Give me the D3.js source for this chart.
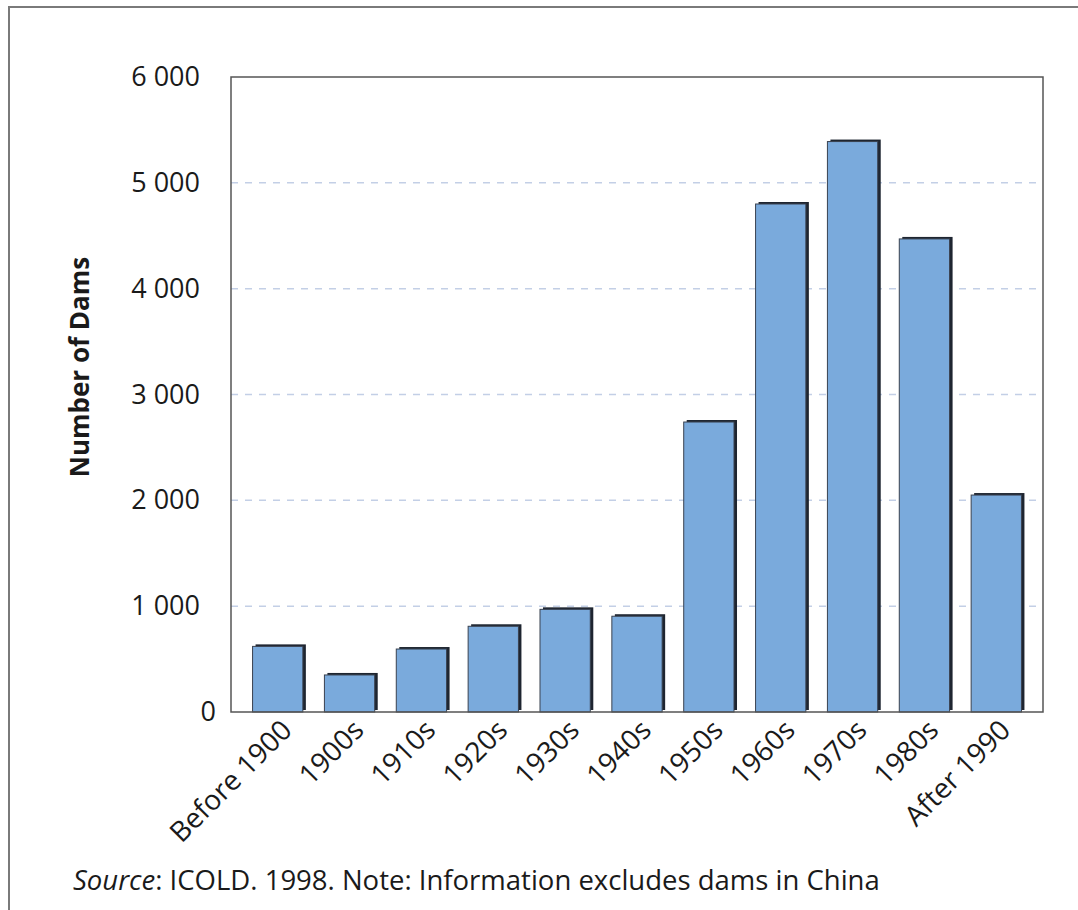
<!DOCTYPE html>
<html lang="en">
<head>
  <meta charset="UTF-8">
  <title>Number of Dams by Period</title>
  <script src="https://d3js.org/d3.v7.min.js"></script>
  <style>
    html, body { margin: 0; background: #fff; overflow: hidden; }
    svg { display: block; }
    text { font-family: "Open Sans", sans-serif; fill: #1a1a1a; }
  </style>
</head>
<body>
  <div id="chart"></div>

  <script>
    // Data
    const periods = ["Before 1900", "1900s", "1910s", "1920s", "1930s", "1940s",
                     "1950s", "1960s", "1970s", "1980s", "After 1990"];
    const dams = [620, 350, 595, 810, 970, 905, 2740, 4800, 5390, 4470, 2050];
    const yTicks = [0, 1000, 2000, 3000, 4000, 5000, 6000];

    const W = 1078, H = 910;
    const plot = { left: 231, top: 77, right: 1043, bottom: 712 };

    const svg = d3.select("#chart")
      .append("svg")
      .attr("width", W)
      .attr("height", H);

    // outer frame: only the top and left edges fall inside the picture
    svg.append("path")
      .attr("d", "M9," + H + "V7H" + W)
      .attr("fill", "none")
      .attr("stroke", "#7a7a7a")
      .attr("stroke-width", 2);

    const x = d3.scaleBand()
      .domain(periods)
      .range([plot.left, plot.right])
      .paddingInner(0.3)
      .paddingOuter(0.3);

    const y = d3.scaleLinear()
      .domain([0, 6000])
      .range([plot.bottom, plot.top]);

    // dashed gridlines
    svg.append("g")
      .selectAll("line")
      .data(yTicks.filter(d => d > 0 && d < 6000))
      .enter().append("line")
        .attr("x1", plot.left).attr("x2", plot.right)
        .attr("y1", d => y(d)).attr("y2", d => y(d))
        .attr("stroke", "#c3cfe6")
        .attr("stroke-width", 1.5)
        .attr("stroke-dasharray", "7,7");

    // bars with a dark drop shadow up and to the right
    const bars = svg.append("g");
    bars.selectAll(".shadow")
      .data(dams)
      .enter().append("rect")
        .attr("class", "shadow")
        .attr("x", (d, i) => x(periods[i]) + 3)
        .attr("y", d => y(d) - 2)
        .attr("width", x.bandwidth())
        .attr("height", d => y(0) - y(d))
        .attr("fill", "#1e2530");
    bars.selectAll(".bar")
      .data(dams)
      .enter().append("rect")
        .attr("class", "bar")
        .attr("x", (d, i) => x(periods[i]))
        .attr("y", d => y(d))
        .attr("width", x.bandwidth())
        .attr("height", d => y(0) - y(d))
        .attr("fill", "#7aaadc")
        .attr("stroke", "#3a4250")
        .attr("stroke-width", 1);

    // plot frame
    svg.append("rect")
      .attr("x", plot.left).attr("y", plot.top)
      .attr("width", plot.right - plot.left)
      .attr("height", plot.bottom - plot.top)
      .attr("fill", "none")
      .attr("stroke", "#555")
      .attr("stroke-width", 1.5);

    // y axis labels
    const fmt = d => d3.format(",")(d).replace(",", " ");
    const yAxis = svg.append("g")
      .attr("transform", "translate(" + plot.left + ",0)")
      .call(d3.axisLeft(y).tickValues(yTicks).tickSize(0).tickPadding(31).tickFormat(fmt));
    yAxis.select(".domain").remove();
    yAxis.selectAll("text")
      .attr("dx", d => d === 0 ? 16 : 0)
      .style("font-size", "27px")
      .style("font-family", "'Open Sans', sans-serif")
      .attr("fill", "#1a1a1a");

    // x axis labels, rotated
    const xAxis = svg.append("g")
      .attr("transform", "translate(0," + plot.bottom + ")")
      .call(d3.axisBottom(x).tickSize(0).tickPadding(0));
    xAxis.select(".domain").remove();
    xAxis.selectAll("text")
      .attr("transform", "translate(1,5) rotate(-45)")
      .attr("dy", "0.75em")
      .style("text-anchor", "end")
      .style("font-size", "28px")
      .style("font-family", "'Open Sans', sans-serif")
      .attr("fill", "#1a1a1a");

    // y axis title
    svg.append("text")
      .attr("transform", "translate(89,367) rotate(-90)")
      .style("text-anchor", "middle")
      .style("font-size", "26px")
      .style("font-weight", "bold")
      .text("Number of Dams");

    // source note
    const note = svg.append("text")
      .attr("x", 73)
      .attr("y", 890)
      .style("font-size", "27.5px");
    note.append("tspan").style("font-style", "italic").text("Source");
    note.append("tspan").text(": ICOLD. 1998. Note: Information excludes dams in China");
  </script>
</body>
</html>
